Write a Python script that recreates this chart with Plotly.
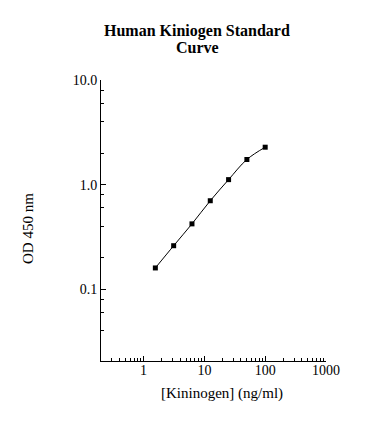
import plotly.graph_objects as go

concentration = [1.5625, 3.125, 6.25, 12.5, 25, 50, 100]
od450 = [0.160, 0.261, 0.422, 0.702, 1.117, 1.74, 2.28]

y_tick_vals = [0.1, 1.0, 10.0]
y_tick_text = ["0.1", "1.0", "10.0"]
x_tick_vals = [1, 10, 100, 1000]
x_tick_text = ["1", "10", "100", "1000"]
y_minor_vals = [m * d for d in (0.01, 0.1, 1) for m in (2, 4, 6, 8)]
x_minor_vals = [m * d for d in (0.1, 1, 10, 100) for m in range(2, 10)]

title_lines = ["Human Kiniogen Standard", "Curve"]
x_title = "[Kininogen] (ng/ml)"
y_title = "OD 450 nm"

font = "Liberation Serif, Times New Roman, serif"

fig = go.Figure()
fig.add_trace(go.Scatter(
    x=concentration, y=od450, mode="lines+markers",
    line=dict(color="black", width=1, shape="spline"),
    marker=dict(symbol="square", size=5, color="black"),
    showlegend=False,
))

annotations = [
    dict(text="<b>%s</b>" % title_lines[0], x=0.427, y=1.174),
    dict(text="<b>%s</b>" % title_lines[1], x=0.427, y=1.114),
]
for a in annotations:
    a.update(xref="paper", yref="paper", xanchor="center", yanchor="middle",
             showarrow=False, font=dict(size=16, family=font, color="black"))
annotations.append(dict(text=x_title, x=0.538, y=-0.114, xref="paper", yref="paper",
                        xanchor="center", yanchor="middle", showarrow=False,
                        font=dict(size=15, family=font, color="black")))
annotations.append(dict(text=y_title, x=-0.324, y=0.47, xref="paper", yref="paper",
                        xanchor="center", yanchor="middle", textangle=-90, showarrow=False,
                        font=dict(size=15, family=font, color="black")))

fig.update_layout(
    width=364, height=417,
    margin=dict(l=93, r=46, t=72, b=64),
    paper_bgcolor="white", plot_bgcolor="white",
    font=dict(family=font, color="black", size=14),
    annotations=annotations,
)
fig.update_xaxes(
    type="log", range=[-0.70, 3.0],
    showline=True, linecolor="black", linewidth=1,
    showgrid=False, zeroline=False,
    tickmode="array", tickvals=x_tick_vals, ticktext=x_tick_text,
    ticks="inside", ticklen=5, tickcolor="black", ticklabelstandoff=-4,
    minor=dict(tickmode="array", tickvals=x_minor_vals, ticks="inside", ticklen=3, tickcolor="black", showgrid=False),
)
fig.update_yaxes(
    type="log", range=[-1.685, 1.0],
    showline=True, linecolor="black", linewidth=1,
    showgrid=False, zeroline=False,
    tickmode="array", tickvals=y_tick_vals, ticktext=y_tick_text,
    ticks="inside", ticklen=5, tickcolor="black",
    minor=dict(tickmode="array", tickvals=y_minor_vals, ticks="inside", ticklen=3, tickcolor="black", showgrid=False),
)

fig.write_html("out.html")
